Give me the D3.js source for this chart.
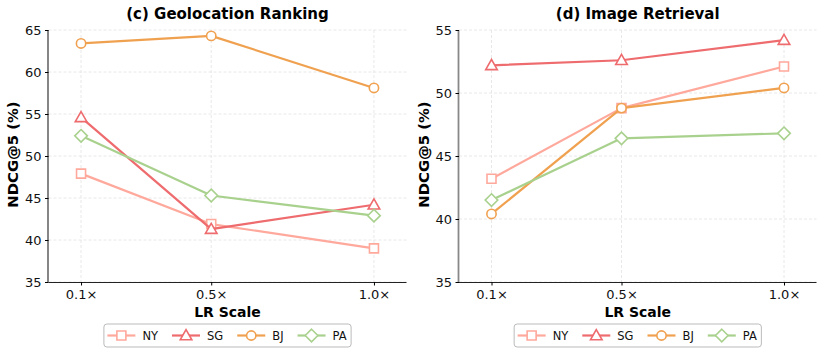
<!DOCTYPE html>
<html>
<head>
<meta charset="utf-8">
<script src="https://cdn.jsdelivr.net/npm/d3@7"></script>
<style>
  body { margin: 0; background: #fff; }
  svg { font-family: "DejaVu Sans", sans-serif; }
</style>
</head>
<body>
<svg id="chart"></svg>
<script>
const width = 824;
const height = 354;

// --- Data ---
const lrValues = [0.1, 0.5, 1.0];
const lrLabels = ["0.1×", "0.5×", "1.0×"];
const cities = ["NY", "SG", "BJ", "PA"];
const yTicks = [35, 40, 45, 50, 55, 60, 65];
const yTicksRight = [35, 40, 45, 50, 55];

const geoNY = [47.9, 41.9, 39.0];
const geoSG = [54.6, 41.3, 44.2];
const geoBJ = [63.4, 64.3, 58.1];
const geoPA = [52.4, 45.3, 42.9];

const imgNY = [43.2, 48.8, 52.1];
const imgSG = [52.2, 52.6, 54.2];
const imgBJ = [40.4, 48.8, 50.4];
const imgPA = [41.5, 46.4, 46.8];

const colors = {NY: "#ffa89c", SG: "#ee6b6e", BJ: "#f0a150", PA: "#a9d18e"};

const svg = d3.select("#chart")
  .attr("width", width)
  .attr("height", height);

// marker shapes, matplotlib-like (s, ^, o, D)
function markerPath(city) {
  if (city === "PA") return "M0,-6.3L6.3,0L0,6.3L-6.3,0Z";
  if (city === "SG") return "M0,-5.8L5.8,4.3L-5.8,4.3Z";
  if (city === "NY") return "M-4.5,-4.5H4.5V4.5H-4.5Z";
  return d3.symbol().type(d3.symbolCircle).size(68)();
}

function marker(g, city, x, y) {
  g.append("path")
    .attr("d", markerPath(city))
    .attr("transform", `translate(${x},${y})`)
    .attr("fill", "white")
    .attr("stroke", colors[city])
    .attr("stroke-width", 1.6);
}

function drawPanel(opts) {
  const {left, right, top, bottom, yDomain, ticks, title, series, spineColor} = opts;

  const x = d3.scaleLinear().domain([0, 1.1]).range([left, right]);
  const y = d3.scaleLinear().domain(yDomain).range([bottom, top]);
  const g = svg.append("g");

  // grid
  g.append("g").selectAll("line")
    .data(ticks)
    .join("line")
    .attr("x1", left).attr("x2", right)
    .attr("y1", d => y(d)).attr("y2", d => y(d))
    .attr("stroke", "#e2e2e2")
    .attr("stroke-width", 0.8)
    .attr("stroke-dasharray", "3,2");
  g.append("g").selectAll("line")
    .data(lrValues)
    .join("line")
    .attr("x1", d => x(d)).attr("x2", d => x(d))
    .attr("y1", top).attr("y2", bottom)
    .attr("stroke", "#e2e2e2")
    .attr("stroke-width", 0.8)
    .attr("stroke-dasharray", "3,2");

  // axes
  const xAxis = d3.axisBottom(x)
    .tickValues(lrValues)
    .tickFormat((d, i) => lrLabels[i])
    .tickSize(3.5)
    .tickPadding(4);
  const gx = g.append("g")
    .attr("transform", `translate(0,${bottom})`)
    .call(xAxis);
  gx.select(".domain").attr("d", `M${left},0.5H${right}`).attr("stroke", "#222").attr("stroke-width", 1.1);
  gx.selectAll("text").attr("font-size", 13).attr("fill", "#111").attr("font-family", "DejaVu Sans");

  const yAxis = d3.axisLeft(y)
    .tickValues(ticks)
    .tickSize(3.5)
    .tickPadding(3.5);
  const gy = g.append("g")
    .attr("transform", `translate(${left},0)`)
    .call(yAxis);
  gy.select(".domain").attr("d", `M-0.5,${top}V${bottom}`).attr("stroke", spineColor.c).attr("stroke-width", spineColor.w);
  gy.selectAll("text").attr("font-size", 13).attr("fill", "#111").attr("font-family", "DejaVu Sans");

  // lines + markers
  const line = d3.line()
    .x((d, i) => x(lrValues[i]))
    .y(d => y(d));
  cities.forEach(city => {
    const vals = series[city];
    g.append("path")
      .datum(vals)
      .attr("fill", "none")
      .attr("stroke", colors[city])
      .attr("stroke-width", 2.2)
      .attr("stroke-linejoin", "round")
      .attr("d", line);
    const gm = g.append("g");
    vals.forEach((v, i) => marker(gm, city, x(lrValues[i]), y(v)));
  });

  const cx = (left + right) / 2;

  // title
  g.append("text")
    .attr("x", cx)
    .attr("y", 19)
    .attr("text-anchor", "middle")
    .attr("font-size", 15)
    .attr("font-weight", "bold")
    .text(title);

  // axis labels
  g.append("text")
    .attr("x", cx)
    .attr("y", 316.5)
    .attr("text-anchor", "middle")
    .attr("font-size", 14)
    .attr("font-weight", "bold")
    .text("LR Scale");

  g.append("text")
    .attr("transform", `translate(${left - 30.5},${(top + bottom) / 2 - 1.5}) rotate(-90)`)
    .attr("text-anchor", "middle")
    .attr("font-size", 14.8)
    .attr("font-weight", "bold")
    .text("NDCG@5 (%)");

  // legend
  const gl = g.append("g");
  const box = gl.append("rect")
    .attr("fill", "white")
    .attr("stroke", "#bbb")
    .attr("stroke-width", 1)
    .attr("rx", 3);
  const ly = 335.5;
  const gap = 14;
  let lx = 0;
  cities.forEach(city => {
    const it = gl.append("g").attr("transform", `translate(${lx},0)`);
    it.append("line")
      .attr("x1", 0).attr("x2", 28)
      .attr("y1", ly).attr("y2", ly)
      .attr("stroke", colors[city])
      .attr("stroke-width", 2.2);
    marker(it, city, 14, ly);
    const t = it.append("text")
      .attr("x", 35)
      .attr("y", ly + 4)
      .attr("font-size", 11.5)
      .attr("fill", "#111")
      .text(city);
    const w = t.node().getComputedTextLength();
    lx += 35 + w + gap;
  });
  const totalW = lx - gap;
  const boxW = totalW + 8;
  const bx = cx - boxW / 2;
  gl.attr("transform", `translate(${bx + 3.5},0)`);
  box.attr("x", -3.5).attr("y", 324).attr("width", boxW).attr("height", 23);
}

drawPanel({
  left: 48.5, right: 406.5, top: 30, bottom: 282,
  yDomain: [35, 65], ticks: yTicks,
  title: "(c) Geolocation Ranking",
  series: {NY: geoNY, SG: geoSG, BJ: geoBJ, PA: geoPA},
  spineColor: {c: "#222", w: 1.1}
});

drawPanel({
  left: 459, right: 816.5, top: 30, bottom: 282,
  yDomain: [35, 55], ticks: yTicksRight,
  title: "(d) Image Retrieval",
  series: {NY: imgNY, SG: imgSG, BJ: imgBJ, PA: imgPA},
  spineColor: {c: "#888", w: 1.8}
});
</script>
</body>
</html>
